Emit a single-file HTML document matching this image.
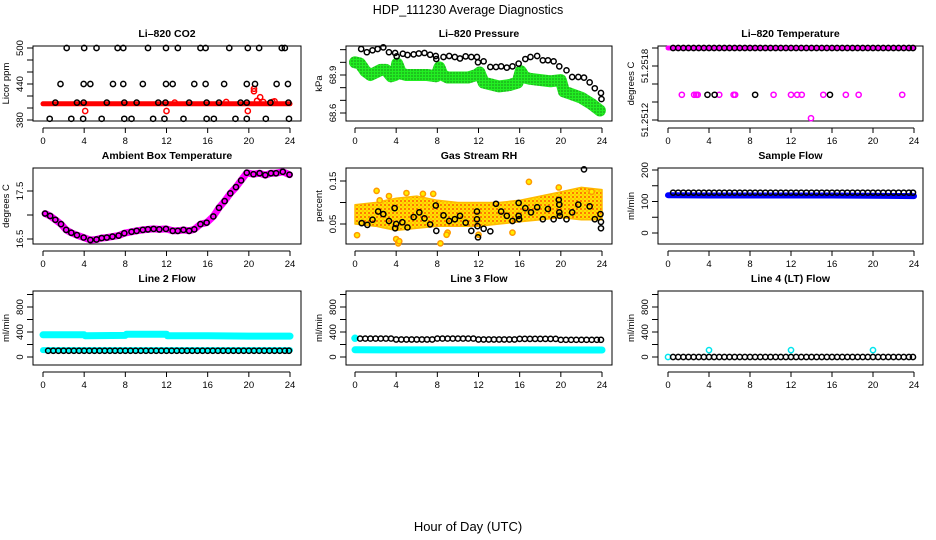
<!DOCTYPE html>
<html><head><meta charset="utf-8"><style>
html,body{margin:0;padding:0;background:#fff;}
svg{display:block;font-family:"Liberation Sans",sans-serif;}
</style></head><body>
<svg id="c" width="936" height="540" viewBox="0 0 936 540">
<defs>
<pattern id="rhpat" width="4" height="4" patternUnits="userSpaceOnUse">
<rect width="4" height="4" fill="#ffe000"/><circle cx="1" cy="1" r="0.9" fill="#ff3300"/><circle cx="3" cy="3" r="0.6" fill="#ff8800"/>
</pattern>
<pattern id="grpat" width="3" height="3" patternUnits="userSpaceOnUse">
<rect width="3" height="3" fill="#22ee22"/><circle cx="1" cy="1" r="0.6" fill="#115511"/>
</pattern>
</defs>
<text x="468" y="14" font-size="12.5" text-anchor="middle">HDP_111230  Average Diagnostics</text>
<text x="468" y="531" font-size="13" text-anchor="middle">Hour of Day (UTC)</text>
</svg>
<script>
// shared hours for black average points
const hrs = [0.5,1.0,1.5,2.0,2.5,3.0,3.5,4.0,4.5,5.0,5.5,6.0,6.5,7.0,7.5,8.0,8.5,9.0,9.5,10.0,10.5,11.0,11.5,12.0,12.5,13.0,13.5,14.0,14.5,15.0,15.5,16.0,16.5,17.0,17.5,18.0,18.5,19.0,19.5,20.0,20.5,21.0,21.5,22.0,22.5,23.0,23.5,23.9];
const xTicks = [0,4,8,12,16,20,24];
// CO2
const co2BlackH = [2.3,4.0,5.2,7.25,7.8,10.2,11.95,13.1,15.3,15.8,18.1,19.9,21.0,23.2,23.5, 1.7,3.95,4.6,6.8,7.8,9.7,11.95,12.6,14.7,15.8,17.6,19.8,20.6,22.7,23.8, 1.2,3.3,3.95,6.2,7.9,9.1,11.2,11.9,14.2,15.9,17.1,19.2,19.8,22.1,23.85, 0.65,2.75,3.9,5.7,7.9,8.6,10.7,11.8,13.65,15.9,16.6,18.7,19.8,21.65,23.9];
const co2BlackV = [500,500,500,500,500,500,500,500,500,500,500,500,500,500,500, 440,440,440,440,440,440,440,440,440,440,440,440,440,440,440, 409,409,409,409,409,409,409,409,409,409,409,409,409,409,409, 382,382,382,382,382,382,382,382,382,382,382,382,382,382,382];
const co2BandH = [0,2,4,6,8,10,12,14,16,18,20,22,24];
const co2BandV = [407,407,407,407,407,407,407,407,407,407,407,407,407];
const co2RedH = [4.1,12.0,19.9,20.5,20.5,21.1,20.8,21.4,22.3,17.8,12.8,22.5];
const co2RedV = [395,395,395,432,428,418,412,410,410,410,409,411];
// Pressure
const presH = [0.6,1.15,1.7,2.2,2.75,3.3,3.9,4.05,4.65,5.1,5.7,6.2,6.75,7.3,7.85,7.9,8.6,9.15,9.7,10.2,10.75,11.3,11.85,11.95,12.5,13.15,13.7,14.2,14.75,15.3,15.9,16.55,17.05,17.7,18.25,18.75,19.3,19.85,20.55,21.1,21.7,22.25,22.8,23.3,23.9,23.95];
const presV = [69.105,69.08,69.095,69.105,69.118,69.08,69.074,69.047,69.068,69.058,69.063,69.07,69.074,69.06,69.05,69.026,69.042,69.05,69.042,69.03,69.047,69.042,69.042,69.0,69.008,68.963,68.963,68.968,68.958,68.968,68.99,69.026,69.042,69.05,69.016,69.016,69.008,68.968,68.937,68.884,68.884,68.879,68.842,68.795,68.758,68.71];
const presGreenH = [0,0.5,1,1.5,2,2.5,3,3.5,3.9,4.1,4.5,5,6,7,7.9,8.2,8.5,9,10,11,11.8,12.1,12.5,13,14,15,15.8,16.1,16.5,17,18,19,20,20.3,21,22,23,23.8];
const presGreenV = [69.0,68.99,68.93,68.9,68.92,68.94,68.94,68.89,68.9,68.99,68.91,68.9,68.9,68.9,68.89,68.96,68.9,68.88,68.88,68.88,68.9,68.92,68.84,68.83,68.81,68.82,68.84,68.93,68.88,68.87,68.86,68.85,68.86,68.77,68.75,68.72,68.67,68.62];
// Li-820 temperature
const tempTopV = [51.2520,51.2520,51.2520,51.2520,51.2520,51.2520,51.2520,51.2520,51.2520,51.2520,51.2520,51.2520,51.2520,51.2520,51.2520,51.2520,51.2520,51.2520,51.2520,51.2520,51.2520,51.2520,51.2520,51.2520,51.2520,51.2520,51.2520,51.2520,51.2520,51.2520,51.2520,51.2520,51.2520,51.2520,51.2520,51.2520,51.2520,51.2520,51.2520,51.2520,51.2520,51.2520,51.2520,51.2520,51.2520,51.2520,51.2520,51.2520];
const tempMagH = [1.35,2.55,2.75,2.9,5.0,6.4,6.55,10.3,12.0,12.6,13.05,15.15,17.35,18.6,22.85,13.95];
const tempMagV = [51.25148,51.25148,51.25148,51.25148,51.25148,51.25148,51.25148,51.25148,51.25148,51.25148,51.25148,51.25148,51.25148,51.25148,51.25148,51.25122];
const tempBlkH = [3.85,4.55,8.5,15.8];
const tempBlkV = [51.25148,51.25148,51.25148,51.25148];
const tempBandH = [0,24];
const tempBandV = [51.2520,51.2520];
// Ambient
const ambH = [0.2,0.7,1.2,1.75,2.25,2.75,3.3,3.95,4.6,5.2,5.7,6.2,6.75,7.35,7.9,8.6,9.1,9.7,10.2,10.75,11.3,11.95,12.6,13.1,13.65,14.2,14.7,15.3,15.9,16.55,17.1,17.65,18.2,18.75,19.25,19.8,20.45,21.05,21.6,22.15,22.65,23.3,23.95];
const ambV = [17.03,16.98,16.9,16.81,16.69,16.63,16.58,16.53,16.48,16.49,16.52,16.53,16.55,16.57,16.62,16.65,16.67,16.69,16.7,16.71,16.7,16.71,16.67,16.67,16.69,16.67,16.7,16.81,16.84,16.97,17.15,17.29,17.45,17.58,17.72,17.88,17.85,17.87,17.83,17.87,17.87,17.9,17.84];
// RH
const rhH = [0.65,1.2,1.7,2.25,2.75,3.3,3.85,3.9,4.0,4.6,5.1,5.7,6.25,6.75,7.3,7.85,7.9,8.6,9.15,9.7,10.2,10.75,11.3,11.85,11.85,11.9,11.95,12.5,13.15,13.7,14.2,14.75,15.3,15.9,15.9,15.95,16.55,17.1,17.7,18.25,18.75,19.3,19.8,19.85,19.85,19.9,20.55,21.1,21.7,22.25,22.8,23.3,23.85,23.9,23.9];
const rhV = [0.052,0.048,0.06,0.079,0.073,0.057,0.087,0.04,0.05,0.054,0.042,0.066,0.077,0.063,0.049,0.093,0.034,0.07,0.057,0.061,0.069,0.053,0.034,0.079,0.061,0.045,0.019,0.039,0.033,0.097,0.079,0.069,0.057,0.099,0.069,0.061,0.087,0.077,0.089,0.061,0.085,0.061,0.106,0.095,0.077,0.069,0.061,0.077,0.095,0.177,0.091,0.061,0.073,0.055,0.04];
const rhBandH = [0,2,4,6,8,10,12,14,16,18,20,22,24];
const rhBandLo = [0.05,0.045,0.035,0.04,0.045,0.045,0.045,0.05,0.055,0.06,0.065,0.06,0.06];
const rhBandHi = [0.095,0.1,0.11,0.115,0.105,0.1,0.1,0.1,0.105,0.115,0.125,0.135,0.13];
const rhOutH = [0.2,2.1,2.4,3.3,4.2,4.0,5.0,6.6,7.6,8.3,9.0,12.0,15.3,16.9,19.8,23.0,8.9,4.3];
const rhOutV = [0.024,0.127,0.105,0.115,0.005,0.015,0.122,0.12,0.12,0.005,0.03,0.025,0.03,0.148,0.135,0.125,0.025,0.01];
// Sample flow
const sfBlackV = [128,128,128,128,128,128,128,128,128,128,128,128,128,128,128,128,128,128,128,128,128,128,128,128,128,128,128,128,128,128,128,128,128,128,128,128,128,128,128,128,128,128,128,128,128,128,128,128];
const sfBandH = [0,4,8,12,16,20,24];
const sfBandV = [120,119,119,119,119,118,117];
// Line 2
const l2BlackV = [100,100,100,100,100,100,100,100,100,100,100,100,100,100,100,100,100,100,100,100,100,100,100,100,100,100,100,100,100,100,100,100,100,100,100,100,100,100,100,100,100,100,100,100,100,100,100,100];
const l2CyanH = [0,4,4.1,8,8.1,12,12.1,16,20,24];
const l2CyanV = [355,355,340,345,365,365,340,340,335,335];
const l2CyanLoH = [0,24];
const l2CyanLoV = [110,110];
// Line 3
const l3BlackV = [295,295,295,295,295,295,295,280,280,280,280,280,280,280,280,295,295,295,295,295,295,295,295,280,280,280,280,280,280,280,280,290,290,290,290,290,290,290,290,275,275,275,275,275,275,275,275,275];
const l3CyanH = [0,24];
const l3CyanV = [115,112];
const l3CyanHiH = [0];
const l3CyanHiV = [300];
// Line 4
const l4BlackV = [0,0,0,0,0,0,0,0,0,0,0,0,0,0,0,0,0,0,0,0,0,0,0,0,0,0,0,0,0,0,0,0,0,0,0,0,0,0,0,0,0,0,0,0,0,0,0,0];
const l4CyanH = [0,4,12,20];
const l4CyanV = [0,110,110,110];

const NS = "http://www.w3.org/2000/svg";
const svg = document.getElementById('c');
function mk(tag, attrs, parent){ const e=document.createElementNS(NS,tag); for(const k in attrs) e.setAttribute(k,attrs[k]); (parent||svg).appendChild(e); return e; }

const cols = [{l:33,r:301,x0:43,x24:290},{l:346,r:612,x0:355,x24:602},{l:658,r:923,x0:668,x24:914}];
const rows = [{t:46,b:121},{t:168,b:244},{t:291,b:365}];

function panel(name, col, row, title, ylab, ya, yb, pa, pb, ticks, labels){
  const C=cols[col], R=rows[row];
  const g = mk('g',{});
  
  
  const sx = h => C.x0 + (C.x24-C.x0)*h/24;
  const sy = v => pa + (pb-pa)*(v-ya)/(yb-ya);
  const box = mk('rect',{x:C.l,y:R.t,width:C.r-C.l,height:R.b-R.t,fill:'none',stroke:'#000','stroke-width':1},g);
  
  
  const tt = mk('text',{x:(C.l+C.r)/2,y:R.t-9,'font-size':10.5,'font-weight':'bold','text-anchor':'middle'},g);
  tt.textContent = title;
  
  
  const xa = mk('g',{},g);
  
  
  const ay = R.b+7;
  mk('line',{x1:sx(0),x2:sx(24),y1:ay,y2:ay,stroke:'#000'},xa);
  xTicks.forEach(h=>{
    mk('line',{x1:sx(h),x2:sx(h),y1:ay,y2:ay+5,stroke:'#000'},xa);
    const t = mk('text',{x:sx(h),y:ay+16,'font-size':9.5,'text-anchor':'middle'},xa);
    t.textContent = h;
    
    
  });
  const yaG = mk('g',{},g);
  
  
  ticks.forEach(v=>{
    const y=sy(v);
    mk('line',{x1:C.l-6,x2:C.l,y1:y,y2:y,stroke:'#000'},yaG);
    if(labels.includes(v)){
      const t = mk('text',{x:C.l-10,y:y,'font-size':9.5,'text-anchor':'middle',transform:`rotate(-90 ${C.l-10} ${y})`},yaG);
      t.textContent = String(v);
      
      
    }
  });
  const yl = mk('text',{x:C.l-24,y:(R.t+R.b)/2,'font-size':9.5,'text-anchor':'middle',transform:`rotate(-90 ${C.l-24} ${(R.t+R.b)/2})`},g);
  yl.textContent = ylab;
  
  
  const clip = 'cp'+name;
  const cp = mk('clipPath',{id:clip},g);
  mk('rect',{x:C.l,y:R.t-4,width:C.r-C.l,height:R.b-R.t+8},cp);
  const pg = mk('g',{'clip-path':`url(#${clip})`},g);
  return {sx,sy,g:pg};
}
function pts(P, H, V, color, name, fill, r){
  H.forEach((h,i)=>{
    const c = mk('circle',{cx:P.sx(h),cy:P.sy(V[i]),r:r||2.6,fill:fill||'none',stroke:color,'stroke-width':1.5},P.g);
    
    
  });
}
function band(P, H, V, color, w, name){
  const d = H.map((h,i)=>(i?'L':'M')+P.sx(h).toFixed(1)+','+P.sy(V[i]).toFixed(1)).join('');
  const p = mk('path',{d,fill:'none',stroke:color,'stroke-width':w,'stroke-linejoin':'round','stroke-linecap':'round'},P.g);
  
  
}

let P = panel('co2',0,0,'Li–820 CO2','Licor ppm',380,500,120,48,[380,400,420,440,460,480,500],[380,440,500]);
band(P,co2BandH,co2BandV,'#ff0000',5,'co2-raw-band');
pts(P,co2RedH,co2RedV,'#ff0000','co2-raw-point');
pts(P,co2BlackH,co2BlackV,'#000','co2-average-point');

P = panel('pressure',1,0,'Li–820 Pressure','kPa',68.6,68.9,113,75,[68.6,68.7,68.8,68.9,69.0,69.1],[68.6,68.9]);
band(P,presGreenH,presGreenV,'url(#grpat)',12,'pressure-raw-band');
pts(P,presH,presV,'#000','pressure-average-point');

P = panel('li820-temp',2,0,'Li–820 Temperature','degrees C',51.2512,51.2518,120,66,[51.2512,51.2514,51.2516,51.2518,51.252],[51.2512,51.2518]);
band(P,tempBandH,tempBandV,'#ff00ff',5,'temp-raw-band');
pts(P,tempMagH,tempMagV,'#ff00ff','temp-raw-point');
pts(P,tempBlkH,tempBlkV,'#000','temp-average-point');
pts(P,hrs,tempTopV,'#000','temp-average-point');

P = panel('ambient',0,1,'Ambient Box Temperature','degrees C',16.5,17.5,239,191,[16.5,17.0,17.5],[16.5,17.5]);
band(P,ambH,ambV,'#ff00ff',7,'ambient-raw-band');
pts(P,ambH,ambV,'#000','ambient-average-point');

P = panel('rh',1,1,'Gas Stream RH','percent',0.05,0.15,224,181,[0.05,0.10,0.15],[0.05,0.15]);
{
  const d = rhBandH.map((h,i)=>(i?'L':'M')+P.sx(h).toFixed(1)+','+P.sy(rhBandHi[i]).toFixed(1)).join('') +
    rhBandH.slice().reverse().map((h,j)=>{const i=rhBandH.length-1-j; return 'L'+P.sx(h).toFixed(1)+','+P.sy(rhBandLo[i]).toFixed(1);}).join('')+'Z';
  const p = mk('path',{d,fill:'url(#rhpat)',stroke:'#ffbb00','stroke-width':1.5,'stroke-linejoin':'round'},P.g);
  
  
}
pts(P,rhOutH,rhOutV,'#ff9900','rh-raw-point','#ffee00');
pts(P,rhH,rhV,'#000','rh-average-point');

P = panel('sample-flow',2,1,'Sample Flow','ml/min',0,200,233,170,[0,50,100,150,200],[0,100,200]);
band(P,sfBandH,sfBandV,'#0000ff',6,'sample-flow-raw-band');
pts(P,hrs,sfBlackV,'#000','sample-flow-average-point');

const flowTicks=[0,200,400,600,800,1000], flowLab=[0,400,800];
P = panel('line2-flow',0,2,'Line 2 Flow','ml/min',0,800,357,307,flowTicks,flowLab);
band(P,l2CyanH,l2CyanV,'#00ffff',7,'line2-raw-band');
band(P,l2CyanLoH,l2CyanLoV,'#00ffff',6,'line2-raw-low-band');
pts(P,hrs,l2BlackV,'#000','line2-average-point');

P = panel('line3-flow',1,2,'Line 3 Flow','ml/min',0,800,357,307,flowTicks,flowLab);
band(P,l3CyanH,l3CyanV,'#00ffff',7,'line3-raw-band');
pts(P,l3CyanHiH,l3CyanHiV,'#00ffff','line3-raw-point','#00ffff',3);
pts(P,hrs,l3BlackV,'#000','line3-average-point');

P = panel('line4-flow',2,2,'Line 4 (LT) Flow','ml/min',0,800,357,307,flowTicks,flowLab);
pts(P,l4CyanH,l4CyanV,'#00e5ee','line4-raw-point');
pts(P,hrs,l4BlackV,'#000','line4-average-point');
</script>
</body></html>
